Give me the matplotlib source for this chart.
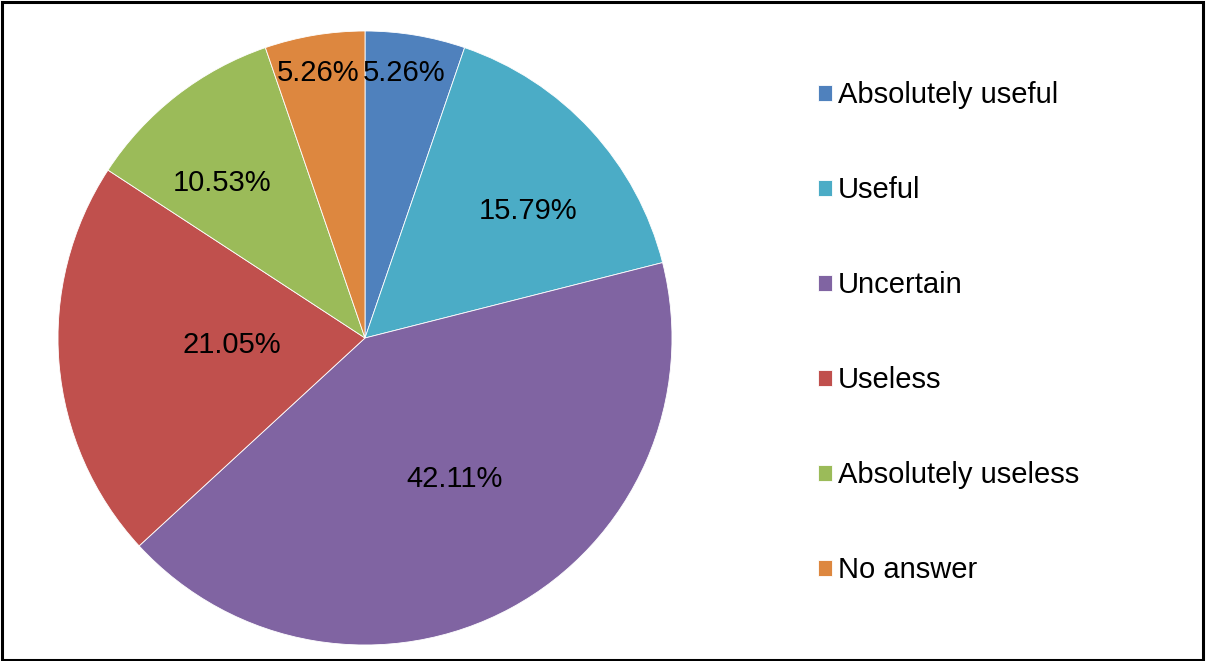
import numpy as np
import matplotlib.pyplot as plt
from matplotlib.patches import Rectangle

plt.rcParams['font.family'] = ['Liberation Sans', 'DejaVu Sans']

labels = ['Absolutely useful', 'Useful', 'Uncertain', 'Useless',
          'Absolutely useless', 'No answer']
shares = [5.26, 15.79, 42.11, 21.05, 10.53, 5.26]
colors = ['#4F81BD', '#4BACC6', '#8064A2', '#C0504D', '#9BBB59', '#DD873F']
# percentage label placement: distance from centre (radius units) and
# angle nudge (degrees) away from the wedge's middle
label_r = [0.879, 0.678, 0.538, 0.435, 0.693, 0.883]
label_da = [1.1, -4.3, 4.6, -2.8, 4.5, 0.5]

W, H = 1206, 661
fig = plt.figure(figsize=(W / 100, H / 100), dpi=100)

cx, cy, r = 365, 338, 307
ax = fig.add_axes([(cx - r) / W, (H - cy - r) / H, 2 * r / W, 2 * r / H])
wedges, _ = ax.pie(shares, colors=colors, startangle=90, counterclock=False,
                   radius=1, wedgeprops=dict(edgecolor='white', linewidth=0.6))
ax.set_xlim(-1, 1)
ax.set_ylim(-1, 1)
ax.set_aspect('equal')
ax.axis('off')

for w, v, rr, da in zip(wedges, shares, label_r, label_da):
    mid = np.deg2rad((w.theta1 + w.theta2) / 2 + da)
    ax.text(rr * np.cos(mid), rr * np.sin(mid) - 0.007, f'{v:.2f}%',
            ha='center', va='center', fontsize=21)

fig.legend(wedges, labels, loc='upper left', bbox_to_anchor=(818 / W, 1 - 81 / H),
           frameon=False, fontsize=21, handlelength=0.48, handleheight=0.48,
           handletextpad=0.2, labelspacing=2.3, borderpad=0, borderaxespad=0)

fig.patches.append(Rectangle((0.0015, 0.002), 0.996, 0.995, transform=fig.transFigure,
                             fill=False, edgecolor='black', linewidth=2.2))

fig.savefig('out.png', dpi=100)
